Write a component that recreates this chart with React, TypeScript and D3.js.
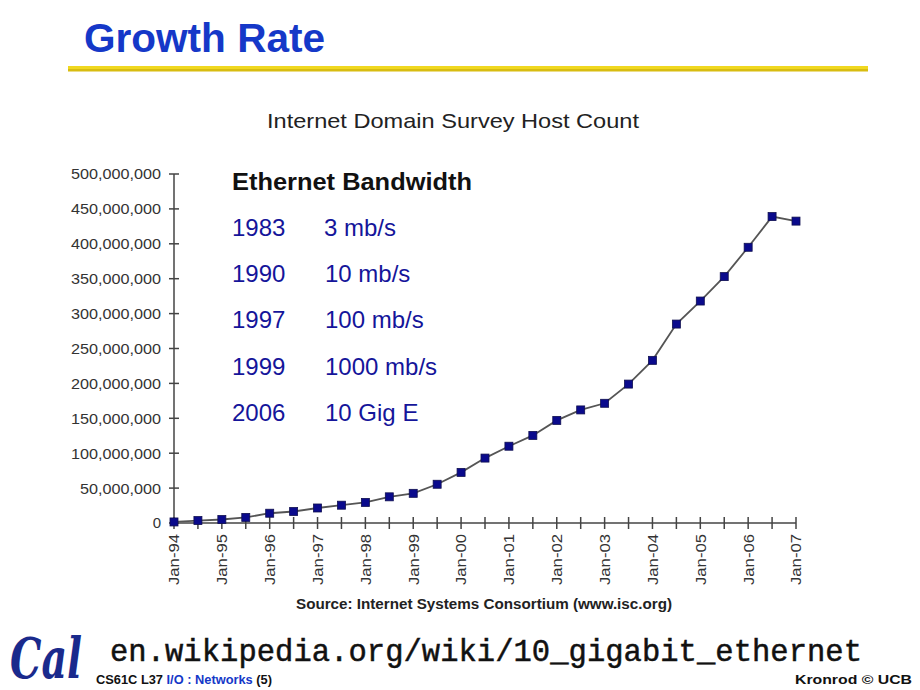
import React from "react";
import * as d3 from "d3";

const dates = [
  "1994-01","1994-07","1995-01","1995-07","1996-01","1996-07","1997-01","1997-07",
  "1998-01","1998-07","1999-01","1999-07","2000-01","2000-07","2001-01","2001-07",
  "2002-01","2002-07","2003-01","2003-07","2004-01","2004-07","2005-01","2005-07",
  "2006-01","2006-07","2007-01",
];
const hosts = [
  1.5, 3.5, 5, 8, 14, 16.5, 21.5, 25.5,
  29.5, 37.5, 42.5, 55.5, 72.5, 93, 110, 125.5,
  147, 162, 171.5, 199, 233, 285, 318, 353,
  395, 439, 432.5,
].map((m) => m * 1e6);
const yTicks = [0, 50e6, 100e6, 150e6, 200e6, 250e6, 300e6, 350e6, 400e6, 450e6, 500e6];
const bandwidthYears = ["1983", "1990", "1997", "1999", "2006"];
const bandwidthSpeeds = ["3 mb/s", "10 mb/s", "100 mb/s", "1000 mb/s", "10 Gig E"];

const parse = d3.timeParse("%Y-%m");
const fmtTick = d3.timeFormat("%b-%y");

export default function App() {
  const W = 920, H = 690;
  const left = 174, right = 796, top = 174, bottom = 523;
  const xi = d3.scaleLinear().domain([0, dates.length - 1]).range([left, right]);
  const y = d3.scaleLinear().domain([0, 500e6]).range([bottom, top]);
  const fmtY = d3.format(",");
  const line = d3.line<number>().x((_, i) => xi(i)).y((d) => y(d));
  const sans = "'Liberation Sans', Arial, sans-serif";

  return (
    <svg width={W} height={H} style={{ position: "absolute", left: 0, top: 0, background: "#fff" }}>
      <rect x={0} y={0} width={W} height={H} fill="#fff" />
      {/* slide title */}
      <text x={84} y={52} fontFamily={sans} fontWeight="bold" fontSize={40} fill="#1538c8" textLength={241} lengthAdjust="spacingAndGlyphs">
        Growth Rate
      </text>
      <rect x={68} y={66} width={800} height={3} fill="#f0d820" />
      <rect x={68} y={69} width={800} height={2.5} fill="#d8bc10" />

      {/* chart title */}
      <text x={453} y={128} textAnchor="middle" fontFamily={sans} fontSize={21} fill="#222" textLength={372} lengthAdjust="spacingAndGlyphs">
        Internet Domain Survey Host Count
      </text>

      {/* y axis */}
      <line x1={left} x2={left} y1={top} y2={bottom} stroke="#444" strokeWidth={1.5} />
      {yTicks.map((t) => (
        <g key={t}>
          <line x1={left - 5} x2={left + 5} y1={y(t)} y2={y(t)} stroke="#444" strokeWidth={1.5} />
          <text x={161} y={y(t)} dy="0.36em" textAnchor="end" fontFamily={sans} fontSize={15} fill="#333"
            textLength={t === 0 ? undefined : t >= 100e6 ? 90 : 81} lengthAdjust="spacingAndGlyphs">
            {fmtY(t)}
          </text>
        </g>
      ))}

      {/* x axis */}
      <line x1={left} x2={right} y1={bottom} y2={bottom} stroke="#444" strokeWidth={1.5} />
      {dates.map((d, i) => (
        <line key={d} x1={xi(i)} x2={xi(i)} y1={bottom - 6} y2={bottom + 6} stroke="#444" strokeWidth={1.5} />
      ))}
      {dates.map((d, i) =>
        d.endsWith("-01") ? (
          <text
            key={"l" + d}
            transform={`translate(${xi(i)},${534}) rotate(-90)`}
            dy="0.36em"
            textAnchor="end"
            fontFamily={sans}
            fontSize={15}
            fill="#333"
            textLength={51}
            lengthAdjust="spacingAndGlyphs"
          >
            {fmtTick(parse(d)!)}
          </text>
        ) : null
      )}

      {/* data */}
      <path d={line(hosts) || ""} fill="none" stroke="#555" strokeWidth={1.8} />
      {hosts.map((v, i) => (
        <rect key={i} x={xi(i) - 4} y={y(v) - 4} width={8} height={8} fill="#0a0a8c" stroke="#101050" strokeWidth={0.8} />
      ))}

      {/* source */}
      <text x={484} y={609} textAnchor="middle" fontFamily={sans} fontWeight="bold" fontSize={14.5} fill="#222" textLength={376} lengthAdjust="spacingAndGlyphs">
        Source: Internet Systems Consortium (www.isc.org)
      </text>

      {/* inset */}
      <text x={232} y={190} fontFamily={sans} fontWeight="bold" fontSize={23} fill="#111" textLength={240} lengthAdjust="spacingAndGlyphs">
        Ethernet Bandwidth
      </text>
      {bandwidthYears.map((yr, i) => (
        <g key={yr}>
          <text x={232} y={236 + i * 46.2} fontFamily={sans} fontSize={24} fill="#15159a">
            {yr}
          </text>
          <text x={i === 0 ? 324 : 325} y={236 + i * 46.2} fontFamily={sans} fontSize={24} fill="#15159a">
            {bandwidthSpeeds[i]}
          </text>
        </g>
      ))}

      {/* footer */}
      <text transform="translate(10,678) scale(1,1.4)" fontFamily="'DejaVu Serif', serif" fontStyle="italic" fontWeight="bold" fontSize={40} fill="#1a2a8c" textLength={72} lengthAdjust="spacingAndGlyphs">
        Cal
      </text>
      <text x={110} y={661} fontFamily="'Liberation Mono', 'Courier New', monospace" fontSize={30.5} fill="#111" stroke="#111" strokeWidth={0.5} textLength={752}>
        en.wikipedia.org/wiki/10_gigabit_ethernet
      </text>
      <text x={96} y={684} fontFamily={sans} fontWeight="bold" fontSize={12} fill="#111" textLength={176} lengthAdjust="spacingAndGlyphs">
        CS61C L37 <tspan fill="#1538c8">I/O : Networks</tspan> (5)
      </text>
      <text x={912} y={684} textAnchor="end" fontFamily={sans} fontWeight="bold" fontSize={12} fill="#111" textLength={117} lengthAdjust="spacingAndGlyphs">
        Kronrod © UCB
      </text>
    </svg>
  );
}
